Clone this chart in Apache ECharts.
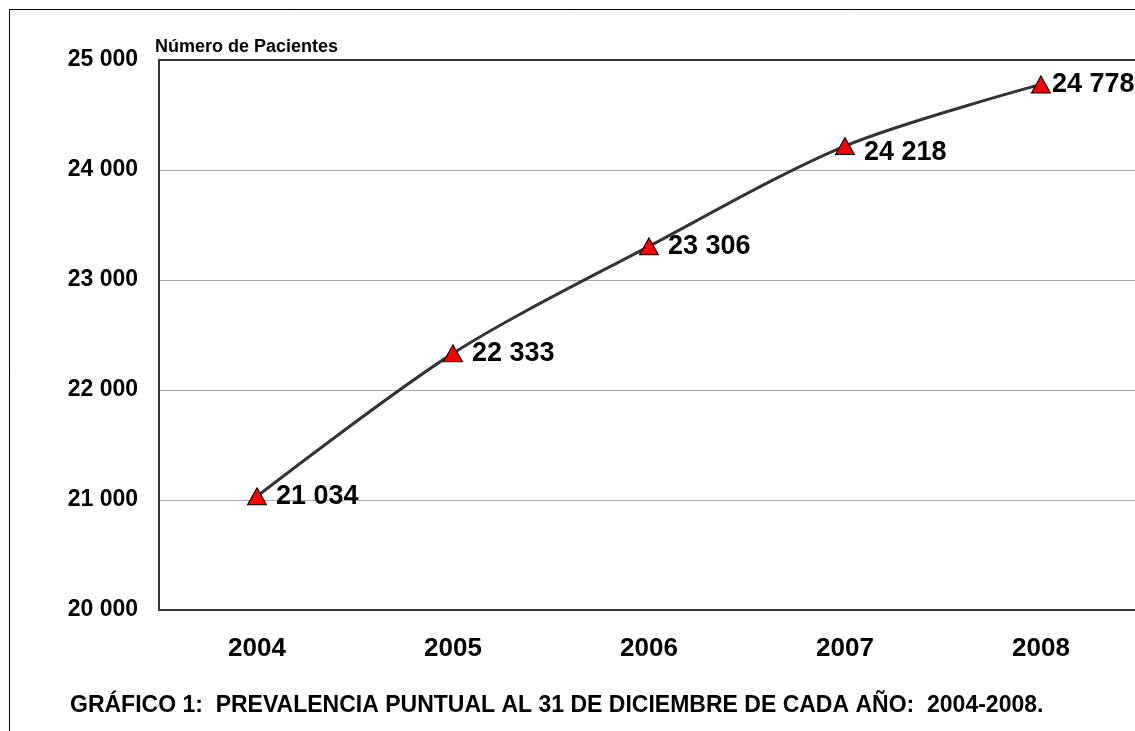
<!DOCTYPE html>
<html><head><meta charset="utf-8">
<script src="https://cdn.jsdelivr.net/npm/echarts@6/dist/echarts.min.js"></script>
<style>html,body{margin:0;padding:0;background:#fff}#c{width:1135px;height:731px}</style>
</head><body><div id="c"></div>
<script>
const years = [2004, 2005, 2006, 2007, 2008];
const patients = [21034, 22333, 23306, 24218, 24778];
const labelGap = [9, 9, 9, 9, 1];
const labelShift = [0, 0, 0, 7, 0];
const yTicks = [20000, 21000, 22000, 23000, 24000, 25000];

const fmt = v => String(v).replace(/\B(?=(\d{3})+(?!\d))/g, ' ');
const font = '"Liberation Sans", Arial, sans-serif';
const frame = {show: true, lineStyle: {color: '#333', width: 2}};
const xMin = years[0] - 0.5, xMax = years[years.length - 1] + 0.48;

const chart = echarts.init(document.getElementById('c'), null, {renderer: 'canvas'});
chart.setOption({
  animation: false,
  backgroundColor: '#fff',
  grid: {left: 159, top: 60, right: 0, height: 550, containLabel: false},
  graphic: [
    {type: 'rect', shape: {x: 9.5, y: 9.5, width: 2000, height: 2000}, style: {fill: null, stroke: '#000', lineWidth: 1}, z: -1},
    {type: 'text', left: 155, top: 38, style: {text: 'Número de Pacientes', font: 'bold 18px ' + font, fill: '#000'}},
    {type: 'text', left: 70, top: 694, style: {text: 'GRÁFICO 1:  PREVALENCIA PUNTUAL AL 31 DE DICIEMBRE DE CADA AÑO:  2004-2008.', font: 'bold 23px ' + font, fill: '#000'}}
  ],
  xAxis: [{
    type: 'value', min: xMin, max: xMax, position: 'bottom',
    axisLine: frame, axisTick: {show: false}, splitLine: {show: false},
    axisLabel: {customValues: years, formatter: v => String(v), fontFamily: font, fontWeight: 'bold', fontSize: 26, color: '#000', margin: 26}
  }, {
    type: 'value', min: xMin, max: xMax, position: 'top',
    axisLine: frame, axisTick: {show: false}, splitLine: {show: false}, axisLabel: {show: false}
  }],
  yAxis: {
    type: 'value', min: yTicks[0], max: yTicks[yTicks.length - 1], interval: 1000,
    axisLine: frame, axisTick: {show: false},
    splitLine: {lineStyle: {color: '#aaa', width: 1}},
    axisLabel: {fontFamily: font, fontWeight: 'bold', fontSize: 23, color: '#000', margin: 21, formatter: v => fmt(v)}
  },
  series: [{
    type: 'line', smooth: 0.3, xAxisIndex: 0,
    data: patients.map((v, i) => ({value: [years[i], v], label: {distance: labelGap[i], offset: [0, labelShift[i]]}})),
    symbol: 'triangle', symbolSize: [19, 17],
    lineStyle: {color: '#333', width: 3},
    itemStyle: {color: '#ff0000', borderColor: '#000', borderWidth: 1},
    label: {show: true, position: 'right', formatter: p => fmt(p.value[1]), fontFamily: font, fontWeight: 'bold', fontSize: 27, color: '#000'},
    z: 3
  }]
});
</script></body></html>
